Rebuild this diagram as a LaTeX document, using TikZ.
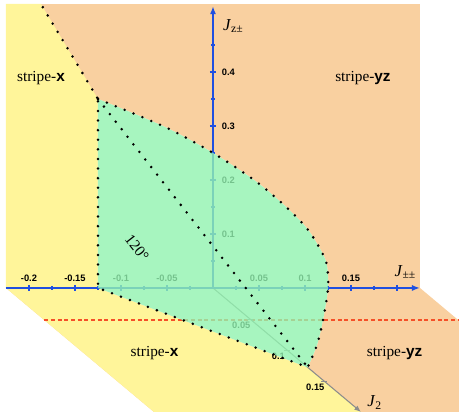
\documentclass[tikz,border=0pt]{standalone}
\usepackage{fontspec}
\setmainfont{Liberation Serif}
\setsansfont{Liberation Sans}
\usetikzlibrary{arrows.meta}
\definecolor{stripe_yellow}{HTML}{FFF59A}
\definecolor{stripe_orange}{HTML}{F9D0A0}
\definecolor{phase_green}{HTML}{92F3B0}
\definecolor{axis_blue}{HTML}{1F4FE0}
\definecolor{axis_gray}{HTML}{8C8C8C}
\definecolor{cutred}{RGB}{245,80,40}

\begin{document}
\begin{tikzpicture}[
    x={(690pt,0pt)}, y={(555pt,-465pt)}, z={(0pt,405pt)},
    boundary/.style={line width=2.1pt, dash pattern=on 0pt off 7.2pt, line cap=round},
    axisline/.style={axis_blue, line width=1.1pt},
    tickmark/.style={axis_blue, line width=0.8pt},
    ticklabel/.style={font=\sffamily\bfseries\fontsize{7}{8}\selectfont, inner sep=0pt},
    region/.style={font=\fontsize{11.5}{13}\selectfont},
    axislabel/.style={font=\fontsize{12.5}{14}\selectfont}
]

% --- Rahmen ---
\coordinate (frameSW) at (-0.2315,0,-0.2407);
\coordinate (frameNE) at (0.2674,0,0.5333);
\useasboundingbox (frameSW) rectangle (frameNE);
\clip (frameSW) rectangle (frameNE);

% --- Eckpunkte der Phasengrenzen ---
\coordinate (O)    at (0,0,0);
\coordinate (Atop) at (-0.185,0,0.52);
\coordinate (A)    at (-0.125,0,0.35);
\coordinate (B)    at (-0.125,0,0);
\coordinate (C)    at (0,0.128,0);
\coordinate (D)    at (0.125,0,0);
\coordinate (E)    at (0,0,0.25);

% --- Ebenen: stripe-yz zuerst, stripe-x darueber ---
\fill[stripe_orange] (-0.225,0,0) rectangle (0.225,0,0.526);
\fill[stripe_orange] (-0.225,0,0) -- (0.225,0,0) -- (0.225,0.2,0) -- (-0.225,0.2,0) -- cycle;
\fill[stripe_yellow] (-0.225,0,0) -- (-0.225,0,0.526) -- (-0.187,0,0.526) -- (A) -- (B) -- cycle;
\fill[stripe_yellow] (-0.225,0,0) -- (-0.225,0.2,0) -- (0,0.2,0) -- (C) -- (B) -- cycle;

% 120-Grad-Phase: Weiss darunter, damit die Achsen durchscheinen
\path[save path=\greenzone] plot[smooth] coordinates {(A) (-0.052,0,0.298) (E)
    (0.0446,0,0.2) (0.075,0,0.157) (0.098,0,0.1185) (0.11,0,0.091) (0.123,0,0.048)
    (D) (0.078,0.0516,0) (0.039,0.092,0) (C)} -- (B) -- cycle;
\fill[white, use path=\greenzone];

% --- Schnittlinie ---
\draw[draw=cutred, line width=0.9pt, dash pattern=on 3pt off 2pt] (-0.225,0.0516,0) -- (0.225,0.0516,0);

% --- Achsen ---
\draw[axis_gray, line width=0.8pt, -{Latex[length=5pt, width=4pt]}] (O) -- (0,0.2,0);
\foreach \t in {0.05, 0.1, 0.15}
    \draw[axis_gray, line width=0.6pt] (0,\t,0) ++(-2pt,0pt) -- ++(4pt,0pt);
\foreach \t in {0.05, 0.1, 0.15}
    \node[ticklabel, xshift=-6.5pt, yshift=-4.5pt] at (0,\t,0) {\t};

\draw[axisline, -{Latex[length=6pt, width=4.5pt]}] (-0.225,0,0) -- (0.225,0,0);
\draw[axisline, -{Latex[length=6pt, width=4.5pt]}] (O) -- (0,0,0.522);

% Striche auf J_pm
\foreach \t in {-0.2, -0.15, -0.1, -0.05, 0.05, 0.1, 0.15, 0.2}
    \draw[tickmark] (\t,0,0) ++(0pt,2.25pt) -- ++(0pt,-4.5pt);
\foreach \t in {-0.175, -0.125, -0.075, -0.025, 0.025, 0.075, 0.125, 0.175}
    \draw[tickmark] (\t,0,0) ++(0pt,1.5pt) -- ++(0pt,-3pt);
\foreach \t in {-0.2, -0.15, -0.1, -0.05, 0.05, 0.1, 0.15}
    \node[ticklabel, anchor=base, yshift=5pt] at (\t,0,0) {\t};

% Striche auf J_z
\foreach \t in {0.1, 0.2, 0.3, 0.4}
    \draw[tickmark] (0,0,\t) ++(-2.25pt,0pt) -- ++(4.5pt,0pt);
\foreach \t in {0.05, 0.15, 0.25, 0.35, 0.45}
    \draw[tickmark] (0,0,\t) ++(-1.5pt,0pt) -- ++(3pt,0pt);
\foreach \t in {0.1, 0.2, 0.3, 0.4}
    \node[ticklabel, anchor=west, xshift=6.5pt] at (0,0,\t) {\t};

% --- 120-Grad-Phase ---
\fill[phase_green, fill opacity=0.8, use path=\greenzone];

% --- Phasengrenzen (gepunktet) ---
\draw[boundary, use path=\greenzone];
\draw[boundary] (A) -- (C);
\draw[boundary] (Atop) -- (A);

% --- Beschriftungen ---
\node[region] (xUp)    at (-0.187,0,0.389) {stripe-\textsf{\bfseries x}};
\node[region] (yzUp)   at (0.163,0,0.389)  {stripe-\textsf{\bfseries yz}};
\node[region] (xDown)  at (-0.148,0.105,0) {stripe-\textsf{\bfseries x}};
\node[region] (yzDown) at (0.113,0.105,0)  {stripe-\textsf{\bfseries yz}};
\node[region, rotate=-52, inner sep=0pt] (angle) at (-0.0826,0,0.0740) {120°};

\node[axislabel] (lblJpm) at (0.209,0,0.03)   {\textit{J}\textsubscript{±±}};
\node[axislabel] (lblJz)  at (0.022,0,0.485)  {\textit{J}\textsubscript{z±}};
\node[axislabel] (lblJ2)  at (0.027,0.185,0)  {\textit{J}\textsubscript{2}};

\end{tikzpicture}
\end{document}
